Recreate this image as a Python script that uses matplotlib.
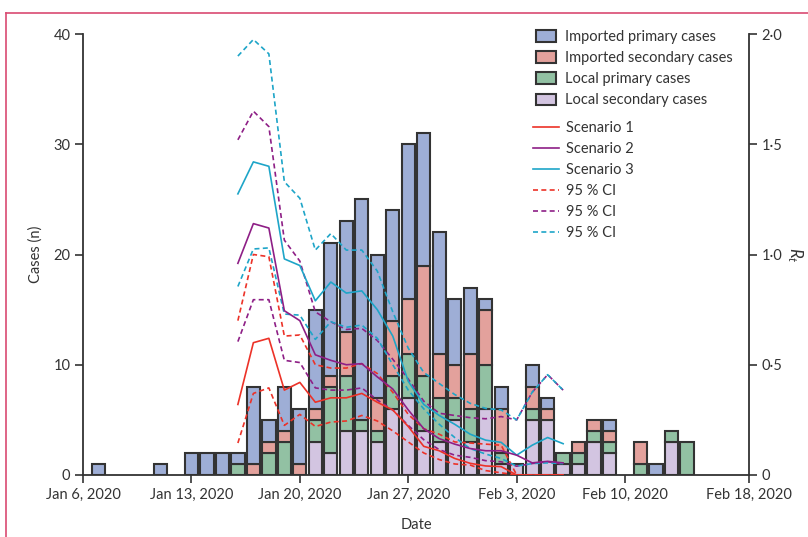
import matplotlib
matplotlib.use("Agg")
import matplotlib.pyplot as plt
from matplotlib.patches import Patch
from matplotlib.lines import Line2D
import numpy as np
import pandas as pd

plt.rcParams['font.family'] = ['Lato', 'DejaVu Sans']
plt.rcParams['mathtext.fontset'] = 'custom'
plt.rcParams['mathtext.it'] = 'Lato:italic'
plt.rcParams['mathtext.rm'] = 'Lato'

# daily case counts (stacked bottom -> top)
bar_dates = ['2020-01-07', '2020-01-11', '2020-01-13', '2020-01-14', '2020-01-15',
             '2020-01-16', '2020-01-17', '2020-01-18', '2020-01-19', '2020-01-20',
             '2020-01-21', '2020-01-22', '2020-01-23', '2020-01-24', '2020-01-25',
             '2020-01-26', '2020-01-27', '2020-01-28', '2020-01-29', '2020-01-30',
             '2020-01-31', '2020-02-01', '2020-02-02', '2020-02-03', '2020-02-04',
             '2020-02-05', '2020-02-06', '2020-02-07', '2020-02-08', '2020-02-09',
             '2020-02-11', '2020-02-12', '2020-02-13', '2020-02-14']
local_secondary = [0, 0, 0, 0, 0, 0, 0, 0, 0, 0, 3, 2, 4, 4, 3, 6, 7, 4, 3, 5,
                   3, 6, 1, 1, 5, 5, 1, 1, 3, 2, 0, 0, 3, 0]
local_primary = [0, 0, 0, 0, 0, 1, 0, 2, 3, 0, 2, 6, 5, 1, 1, 3, 4, 5, 4, 2,
                 3, 4, 1, 0, 1, 0, 1, 1, 1, 1, 1, 0, 1, 3]
imported_secondary = [0, 0, 0, 0, 0, 0, 1, 1, 1, 1, 1, 1, 4, 0, 3, 5, 5, 10, 4, 3,
                      5, 5, 4, 0, 2, 1, 0, 1, 1, 1, 2, 0, 0, 0]
imported_primary = [1, 1, 2, 2, 2, 1, 7, 2, 4, 5, 9, 12, 10, 20, 13, 10, 14, 12, 11, 6,
                    6, 1, 2, 0, 2, 1, 0, 0, 0, 1, 0, 1, 0, 0]

# reproduction number estimates, Jan 16 - Feb 6
rt_dates = pd.date_range('2020-01-16', '2020-02-06')
s1 = [0.32, 0.60, 0.62, 0.385, 0.42, 0.33, 0.35, 0.35, 0.37, 0.33, 0.295, 0.22,
      0.13, 0.11, 0.075, 0.053, 0.041, 0.038, 0, 0, 0, 0]
s1_lo = [0.145, 0.37, 0.395, 0.225, 0.275, 0.22, 0.24, 0.245, 0.27, 0.245, 0.20, 0.15,
         0.10, 0.07, 0.05, 0.045, 0.02, 0.01, 0, 0, 0, 0]
s1_hi = [0.70, 1.0, 0.99, 0.63, 0.635, 0.50, 0.485, 0.485, 0.505, 0.46, 0.375, 0.275,
         0.21, 0.185, 0.15, 0.145, 0.14, 0.135, 0, 0, 0, 0]
s2 = [0.96, 1.14, 1.12, 0.745, 0.70, 0.545, 0.52, 0.50, 0.505, 0.445, 0.39, 0.295,
      0.21, 0.165, 0.14, 0.12, 0.11, 0.11, 0.09, 0.055, 0.062, 0.055]
s2_lo = [0.605, 0.795, 0.795, 0.52, 0.51, 0.395, 0.385, 0.385, 0.395, 0.34, 0.295, 0.225,
         0.16, 0.115, 0.09, 0.08, 0.065, 0.06, 0.04, 0.052, 0.06, 0.05]
s2_hi = [1.52, 1.65, 1.58, 1.065, 0.97, 0.74, 0.695, 0.66, 0.665, 0.61, 0.525, 0.435,
         0.335, 0.28, 0.27, 0.26, 0.255, 0.265, 0.25, 0.375, 0.455, 0.385]
s3 = [1.275, 1.42, 1.40, 0.98, 0.95, 0.79, 0.875, 0.825, 0.835, 0.75, 0.63, 0.425,
      0.32, 0.27, 0.23, 0.185, 0.158, 0.148, 0.09, 0.135, 0.17, 0.142]
s3_lo = [0.855, 1.025, 1.03, 0.73, 0.725, 0.615, 0.695, 0.67, 0.68, 0.62, 0.50, 0.385,
         0.30, 0.23, 0.17, 0.12, 0.095, 0.075, 0.04, 0.052, 0.055, 0.052]
s3_hi = [1.90, 1.975, 1.91, 1.33, 1.255, 1.02, 1.095, 1.02, 1.02, 0.925, 0.74, 0.575,
         0.465, 0.415, 0.365, 0.325, 0.302, 0.295, 0.25, 0.375, 0.455, 0.385]

tick_dates = ['2020-01-06', '2020-01-13', '2020-01-20', '2020-01-27',
              '2020-02-03', '2020-02-10', '2020-02-18']
tick_labels = ['Jan 6, 2020', 'Jan 13, 2020', 'Jan 20, 2020', 'Jan 27, 2020',
               'Feb 3, 2020', 'Feb 10, 2020', 'Feb 18, 2020']
rt_ticks = [0, 0.5, 1.0, 1.5, 2.0]
rt_labels = ['0', '0·5', '1·0', '1·5', '2·0']

c_blue = '#9eaed6'
c_pink = '#e3a19c'
c_green = '#92c1a3'
c_lav = '#d3c5e1'
c_red = '#ec3228'
c_purple = '#8e1f86'
c_cyan = '#1ea5c8'
edge = '#333333'
txt = '#333333'

fig = plt.figure(figsize=(8.08, 5.37), dpi=100)
ax = fig.add_axes([83 / 808, 1 - 475 / 537, (749 - 83) / 808, (475 - 34) / 537])

x = pd.to_datetime(bar_dates)
bottom = np.zeros(len(x))
for vals, col in [(local_secondary, c_lav), (local_primary, c_green),
                  (imported_secondary, c_pink), (imported_primary, c_blue)]:
    vals = np.array(vals, dtype=float)
    m = vals > 0
    ax.bar(x[m], vals[m], bottom=bottom[m], width=0.86, color=col,
           edgecolor=edge, linewidth=1.5, zorder=2)
    bottom += vals

ax.set_ylim(0, 40)
ax.set_xlim(pd.Timestamp('2020-01-06'), pd.Timestamp('2020-02-18'))
ax.set_yticks([0, 10, 20, 30, 40])
ax.set_xticks(pd.to_datetime(tick_dates))
ax.set_xticklabels(tick_labels)
ax.set_ylabel('Cases (n)', fontsize=10.5, color=txt, labelpad=8)
ax.set_xlabel('Date', fontsize=10.5, color=txt, labelpad=12)
ax.spines['top'].set_visible(False)
ax.spines['right'].set_visible(False)
for s in ['left', 'bottom']:
    ax.spines[s].set_linewidth(1.3)
    ax.spines[s].set_color(edge)
ax.tick_params(axis='both', direction='out', length=6, width=1.2, color=edge,
               labelsize=10.5, labelcolor=txt, pad=3)

ax2 = ax.twinx()
ax2.set_ylim(0, 2)
lw = 1.2
dash = (0, (3, 2))
for vals, col in [(s1_lo, c_red), (s1_hi, c_red), (s2_lo, c_purple), (s2_hi, c_purple),
                  (s3_lo, c_cyan), (s3_hi, c_cyan)]:
    ax2.plot(rt_dates, vals, color=col, lw=lw, linestyle=dash, zorder=3)
for vals, col in [(s3, c_cyan), (s2, c_purple), (s1, c_red)]:
    ax2.plot(rt_dates, vals, color=col, lw=lw, zorder=4)
ax2.set_yticks(rt_ticks)
ax2.set_yticklabels(rt_labels)
ax2.set_ylabel('$R_t$', fontsize=12, color=txt, rotation=270, labelpad=16)
for s in ['top', 'left', 'bottom']:
    ax2.spines[s].set_visible(False)
ax2.spines['right'].set_linewidth(1.3)
ax2.spines['right'].set_color(edge)
ax2.tick_params(axis='y', direction='out', length=6, width=1.2, color=edge,
                labelsize=10.5, labelcolor=txt, pad=3)

patch_handles = [Patch(facecolor=c, edgecolor=edge, linewidth=1.5) for c in
                 [c_blue, c_pink, c_green, c_lav]]
patch_labels = ['Imported primary cases', 'Imported secondary cases',
                'Local primary cases', 'Local secondary cases']
leg1 = fig.legend(patch_handles, patch_labels, loc='upper left',
                  bbox_to_anchor=(536 / 808, 1 - 30 / 537), frameon=False,
                  fontsize=10.5, borderpad=0, borderaxespad=0, handlelength=1.4,
                  handleheight=0.85, handletextpad=0.6, labelspacing=0.49)
for t in leg1.get_texts():
    t.set_color(txt)

line_handles = [Line2D([], [], color=c_red, lw=lw),
                Line2D([], [], color=c_purple, lw=lw),
                Line2D([], [], color=c_cyan, lw=lw),
                Line2D([], [], color=c_red, lw=lw, linestyle=dash),
                Line2D([], [], color=c_purple, lw=lw, linestyle=dash),
                Line2D([], [], color=c_cyan, lw=lw, linestyle=dash)]
line_labels = ['Scenario 1', 'Scenario 2', 'Scenario 3', '95 % CI', '95 % CI', '95 % CI']
leg2 = fig.legend(line_handles, line_labels, loc='upper left',
                  bbox_to_anchor=(533 / 808, 1 - 121 / 537), frameon=False,
                  fontsize=10.5, borderpad=0, borderaxespad=0, handlelength=1.8,
                  handletextpad=0.45, labelspacing=0.48)
for t in leg2.get_texts():
    t.set_color(txt)

# pink frame around the panel
frame_col = '#d94a72'
fig.add_artist(Line2D([6 / 808, 6 / 808], [0, 1 - 13 / 537], color=frame_col, lw=1.2,
                      transform=fig.transFigure))
fig.add_artist(Line2D([6 / 808, 1], [1 - 13 / 537, 1 - 13 / 537], color=frame_col, lw=1.2,
                      transform=fig.transFigure))

fig.savefig('out.png', dpi=100)
